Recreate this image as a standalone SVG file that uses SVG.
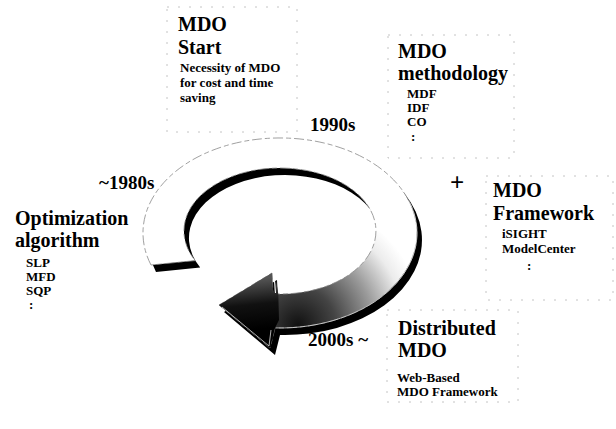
<svg xmlns="http://www.w3.org/2000/svg" width="616" height="429" viewBox="0 0 616 429">
<style>
text{font-family:"Liberation Serif","Times New Roman",serif;font-weight:bold;fill:#000}
.t{font-size:20px}
.s{font-size:13px}
.y{font-size:19px}
.box{fill:none;stroke:#b5b5b5;stroke-width:0.8;stroke-dasharray:2 9}
.edge{fill:none;stroke:#888;stroke-width:0.8;stroke-dasharray:10 3 5 3}
.hl{fill:none;stroke:#ddd;stroke-width:0.8}
</style>
<defs>
<path id="ring" d="M151,265 A137 95 0 1 1 275,327.9 L270,348 L219,305 L272,273 L273,293.5 L278.3,294 A96 63 0 1 0 195.2,260.6 Z"/>
<radialGradient id="shade" gradientUnits="userSpaceOnUse" cx="298" cy="325" r="125">
<stop offset="0" stop-color="#111"/>
<stop offset="0.3" stop-color="#444"/>
<stop offset="0.6" stop-color="#9a9a9a"/>
<stop offset="0.85" stop-color="#ececec"/>
<stop offset="1" stop-color="#fff"/>
</radialGradient>
<linearGradient id="head" gradientUnits="userSpaceOnUse" x1="245" y1="280" x2="250" y2="330">
<stop offset="0" stop-color="#555"/>
<stop offset="0.5" stop-color="#111"/>
<stop offset="1" stop-color="#000"/>
</linearGradient>
</defs>
<g id="connectors">
<g id="cycle-arrow">
<use href="#ring" fill="#000" transform="translate(5,7)"/>
<use href="#ring" fill="url(#shade)"/>
<use href="#ring" class="edge"/>
<path d="M270,348 L219,305 L272,273 L273,293.5 L276,280 L278.3,294 L279,320 L275,327.9 Z" fill="url(#head)"/>
<path class="hl" d="M222,307 L269,346 L271,330"/>
<path class="hl" d="M408.7,200.5 A137 95 0 0 1 276,327.96"/>
<path d="M274.5,281 L275.5,293" stroke="#fff" stroke-width="1"/>
</g>
</g>
<g id="node-mdo-start">
<rect class="box" x="167" y="7" width="130" height="125"/>
<text class="t" x="178" y="31">MDO</text>
<text class="t" x="178" y="54">Start</text>
<text class="s" x="180" y="72">Necessity of MDO</text>
<text class="s" x="180" y="87">for cost and time</text>
<text class="s" x="180" y="102">saving</text>
</g>
<g id="label-1990s"><text class="y" x="310" y="131">1990s</text></g>
<g id="node-mdo-methodology">
<rect class="box" x="388" y="35" width="126" height="123"/>
<text class="t" x="398" y="58">MDO</text>
<text class="t" x="398" y="80">methodology</text>
<text class="s" x="407" y="98">MDF</text>
<text class="s" x="407" y="112">IDF</text>
<text class="s" x="407" y="126">CO</text>
<text class="s" x="411" y="141">:</text>
</g>
<g id="plus"><text x="457" y="191" text-anchor="middle" style="font-size:25px">+</text></g>
<g id="node-mdo-framework">
<rect class="box" x="486" y="176" width="127" height="124"/>
<text class="t" x="493" y="197">MDO</text>
<text class="t" x="493" y="220">Framework</text>
<text class="s" x="502" y="238">iSIGHT</text>
<text class="s" x="502" y="253">ModelCenter</text>
<text class="s" x="527" y="270">:</text>
</g>
<g id="label-1980s"><text class="y" x="99" y="189">~1980s</text></g>
<g id="node-optimization">
<text class="t" x="15" y="225">Optimization</text>
<text class="t" x="15" y="247">algorithm</text>
<text class="s" x="26" y="267">SLP</text>
<text class="s" x="26" y="281">MFD</text>
<text class="s" x="26" y="295">SQP</text>
<text class="s" x="29" y="309">:</text>
</g>
<g id="label-2000s"><text class="y" x="308" y="346">2000s ~</text></g>
<g id="node-distributed">
<rect class="box" x="387" y="310" width="131" height="92"/>
<text class="t" x="398" y="335">Distributed</text>
<text class="t" x="398" y="357">MDO</text>
<text class="s" x="397" y="382">Web-Based</text>
<text class="s" x="397" y="396">MDO Framework</text>
</g>
</svg>
